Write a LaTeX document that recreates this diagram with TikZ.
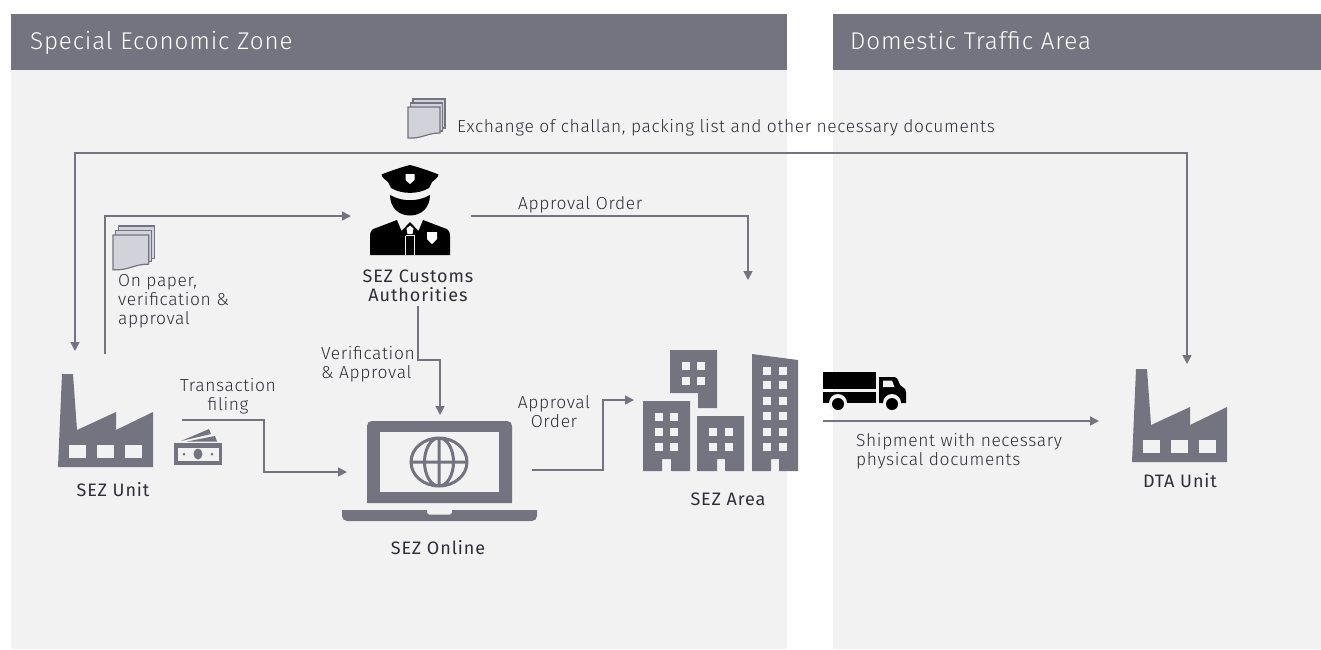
\documentclass[tikz,border=0pt]{standalone}
\usepackage{fontspec}
\setmainfont[LetterSpace=3.5]{Fira Sans Light}
\newfontfamily\actorfont[LetterSpace=5]{Fira Sans}
\usetikzlibrary{arrows,arrows.meta}
\definecolor{eygrey}{HTML}{747480}
\definecolor{paneltone}{HTML}{F2F2F2}
\definecolor{sheet}{HTML}{D2D2DA}
\definecolor{inktext}{HTML}{2E2E38}
\tikzstyle{panel} = [fill=paneltone, draw=none]
\tikzstyle{band} = [fill=eygrey, draw=none]
\tikzstyle{bandtext} = [text=white, anchor=base west, inner sep=0, font=\fontsize{24.2}{26}\selectfont]
\tikzstyle{note} = [text=inktext, inner sep=0, font=\fontsize{17.4}{19}\selectfont]
\tikzstyle{actor} = [text=inktext, inner sep=0, align=center, font=\actorfont\fontsize{18}{19}\selectfont]
\tikzstyle{flow} = [line width=1.6pt, draw=eygrey, ->, >={Stealth[length=9pt,width=9pt,inset=0pt]}]
\tikzstyle{solid icon} = [fill=eygrey, draw=none]
\tikzstyle{pane} = [fill=paneltone, draw=none]

\newcommand{\factoryicon}[2]{
  \begin{scope}[shift={(#1,#2)}]
    \fill[solid icon] (58,467) -- (62,374) -- (73,374) -- (77,430) -- (116,412) -- (116,430) -- (153,412) -- (153,467) -- cycle;
    \foreach \wx in {69,97,125}
      \fill[pane] (\wx,445) rectangle ++(17,13);
  \end{scope}
}
\newcommand{\docstack}[3]{
  \begin{scope}[shift={(#1,#2)},scale=#3]
    \filldraw[fill=sheet,draw=eygrey,line width=1.2pt] (5,-8) rectangle (37,21);
    \filldraw[fill=sheet,draw=eygrey,line width=1.2pt] (2.5,-4) rectangle (34.5,24);
    \filldraw[fill=sheet,draw=eygrey,line width=1.2pt] (0,0) -- (32,0) -- (32,26) .. controls (18,26) and (14,32) .. (0,31) -- cycle;
  \end{scope}
}
\newcommand{\tower}[3]{
  \foreach \wy in {#3}
    \foreach \wx in {#1,#2}
      \fill[pane] (\wx,\wy) rectangle ++(7.5,7.5);
}

\begin{document}
\begin{tikzpicture}[x=1pt,y=-1pt]
    \useasboundingbox (0,0) rectangle (1321,649);
    \fill[panel] (11,14) rectangle (787,649);
    \fill[panel] (833,14) rectangle (1321,649);
    \fill[band] (11,14) rectangle (787,70);
    \fill[band] (833,14) rectangle (1321,70);
    \node[bandtext] (sez title) at (30,49.5) {Special Economic Zone};
    \node[bandtext] (dta title) at (850,49.5) {Domestic Traffic Area};

    \docstack{408}{107}{1}
    \docstack{113}{235}{1.12}
    \node[note,anchor=base west] (exchange label) at (457,132) {Exchange of challan, packing list and other necessary documents};
    \node[note,anchor=north west,align=left] (paper label) at (118,274) {On paper,\\verification \&\\approval};
    \node[note,align=center] (filing label) at (228,396.5) {Transaction\\filing};
    \node[note,anchor=base west] (order label) at (518,209) {Approval Order};
    \node[note,anchor=west,align=left] (verify label) at (321,364) {Verification\\\& Approval};
    \node[note,align=center] (order online label) at (554,411.5) {Approval\\Order};
    \node[note,anchor=west,align=left] (shipment label) at (856,451.5) {Shipment with necessary\\physical documents};

    \node[actor] (customs) at (418,286) {SEZ Customs\\Authorities};
    \node[actor] (sez unit) at (113,489.5) {SEZ Unit};
    \node[actor] (sez online) at (438,547.5) {SEZ Online};
    \node[actor] (sez area) at (728,499.5) {SEZ Area};
    \node[actor] (dta unit) at (1180,480.5) {DTA Unit};

    % factories
    \factoryicon{0}{0}
    \factoryicon{1074}{-5}

    % money
    \fill[solid icon] (174,443) rectangle (222,465);
    \fill[pane] (177.5,448) rectangle (218.5,460.5);
    \fill[solid icon] (198,454) ellipse (4.5 and 5.5);
    \fill[solid icon] (184,454) circle (1.5);
    \fill[solid icon] (212,454) circle (1.5);
    \fill[solid icon] (181,441) -- (209,429) -- (211,434) -- cycle;
    \fill[solid icon] (187,441.5) -- (215,436) -- (217,441.5) -- cycle;

    % officer
    \fill (410,165) .. controls (418,167) and (430,171) .. (438.5,174.5) .. controls (438,178) and (434,180) .. (432,182) -- (429,188) .. controls (418,194.5) and (402,194.5) .. (391,188) -- (388,182) .. controls (386,180) and (382,178) .. (381.5,174.5) .. controls (390,171) and (402,167) .. (410,165) -- cycle;
    \fill[white] (405.5,174) -- (414.5,174) -- (414.5,180) -- (410,184) -- (405.5,180) -- cycle;
    \fill (390,195) .. controls (402,202) and (418,202) .. (430,195) .. controls (430,207) and (422,215.5) .. (410,215.5) .. controls (398,215.5) and (390,207) .. (390,195) -- cycle;
    \fill (370,255) -- (370,236) .. controls (370,231) and (372,229) .. (376,228) -- (397,220) -- (401.5,231) -- (410,222) -- (418.5,231) -- (423,220) -- (444,228) .. controls (448,229) and (450,231) .. (450,236) -- (450,255) -- cycle;
    \fill[white] (406.5,228.5) -- (410,225.5) -- (413.5,228.5) -- (412.5,234) -- (407.5,234) -- cycle;
    \draw[paneltone,line width=1.2pt] (405.5,235.5) -- (414.5,235.5) (405.5,235.5) -- (405.5,255) (414.5,235.5) -- (414.5,255);
    \fill[white] (427,232) -- (437,232) -- (437,239) -- (432,244) -- (427,239) -- cycle;

    % laptop
    \fill[solid icon] (367,503) -- (367,426) .. controls (367,423) and (369,421) .. (372,421) -- (507,421) .. controls (510,421) and (512,423) .. (512,426) -- (512,503) -- cycle;
    \fill[pane] (380,432) rectangle (499,492);
    \draw[eygrey,line width=3pt] (439,462) ellipse (28 and 24) (439,462) ellipse (14.5 and 24) (411,462) -- (467,462) (439,438) -- (439,486);
    \fill[solid icon] (342,510) -- (427,510) -- (427,513) -- (429,514.5) -- (450,514.5) -- (452,513) -- (452,510) -- (537,510) -- (537,516) arc (0:90:5) -- (347,521) arc (90:180:5) -- cycle;

    % buildings
    \fill[solid icon] (643,401) -- (690,401) -- (690,471) -- (671,471) -- (671,459) -- (662,459) -- (662,471) -- (643,471) -- cycle;
    \fill[solid icon] (697,416) -- (744,416) -- (744,471) -- (725,471) -- (725,459) -- (717,459) -- (717,471) -- (697,471) -- cycle;
    \fill[solid icon] (752,354) -- (798,360) -- (798,471) -- (779,471) -- (779,459) -- (771,459) -- (771,471) -- (752,471) -- cycle;
    \fill[solid icon] (670,350) -- (717,350) -- (717,408) -- (698,408) -- (698,393) -- (670,393) -- cycle;
    \tower{655}{670}{413,428,443}
    \tower{709}{725}{428,443}
    \tower{763}{779}{367,381,397,412,428,443}
    \tower{682}{697}{362,377}

    % truck
    \fill (823,372) rectangle (876,389);
    \fill (823,392) rectangle (876,403);
    \fill (879,403) -- (879,377) -- (894,377) .. controls (897,377) and (898,380) .. (900,385) -- (905,389) -- (906,392) -- (906,403) -- cycle;
    \fill[paneltone] (883,380.5) -- (892,380.5) -- (894.5,387) -- (883,387) -- cycle;
    \fill[paneltone] (838,403) circle (9);
    \fill[paneltone] (892,403) circle (9);
    \fill (838,404) circle (6);
    \fill (892,404) circle (6);

    % connectors
    \coordinate (sez in) at (75,351);
    \coordinate (exchange left) at (75,153);
    \coordinate (exchange right) at (1187,153);
    \coordinate (dta in) at (1187,364);
    \coordinate (sez out) at (105,354);
    \coordinate (customs in) at (351,216);
    \coordinate (customs out) at (471,216);
    \coordinate (area top) at (748,280);
    \coordinate (customs down) at (418,306);
    \coordinate (online top) at (440,415);
    \coordinate (filing start) at (182,420);
    \coordinate (online left) at (347,472);
    \coordinate (online right) at (532,470);
    \coordinate (area left) at (634,400);
    \coordinate (truck start) at (823,421);
    \coordinate (dta left) at (1099,421);
    \draw [flow,<->] (sez in) -- (exchange left) -- (exchange right) -- (dta in);
    \draw [flow] (sez out) |- (customs in);
    \draw [flow] (customs out) -| (area top);
    \draw [flow] (customs down) -- ++(0,54) -| (online top);
    \draw [flow] (filing start) -- ++(82,0) |- (online left);
    \draw [flow] (online right) -- ++(71,0) |- (area left);
    \draw [flow] (truck start) -- (dta left);
\end{tikzpicture}
\end{document}
